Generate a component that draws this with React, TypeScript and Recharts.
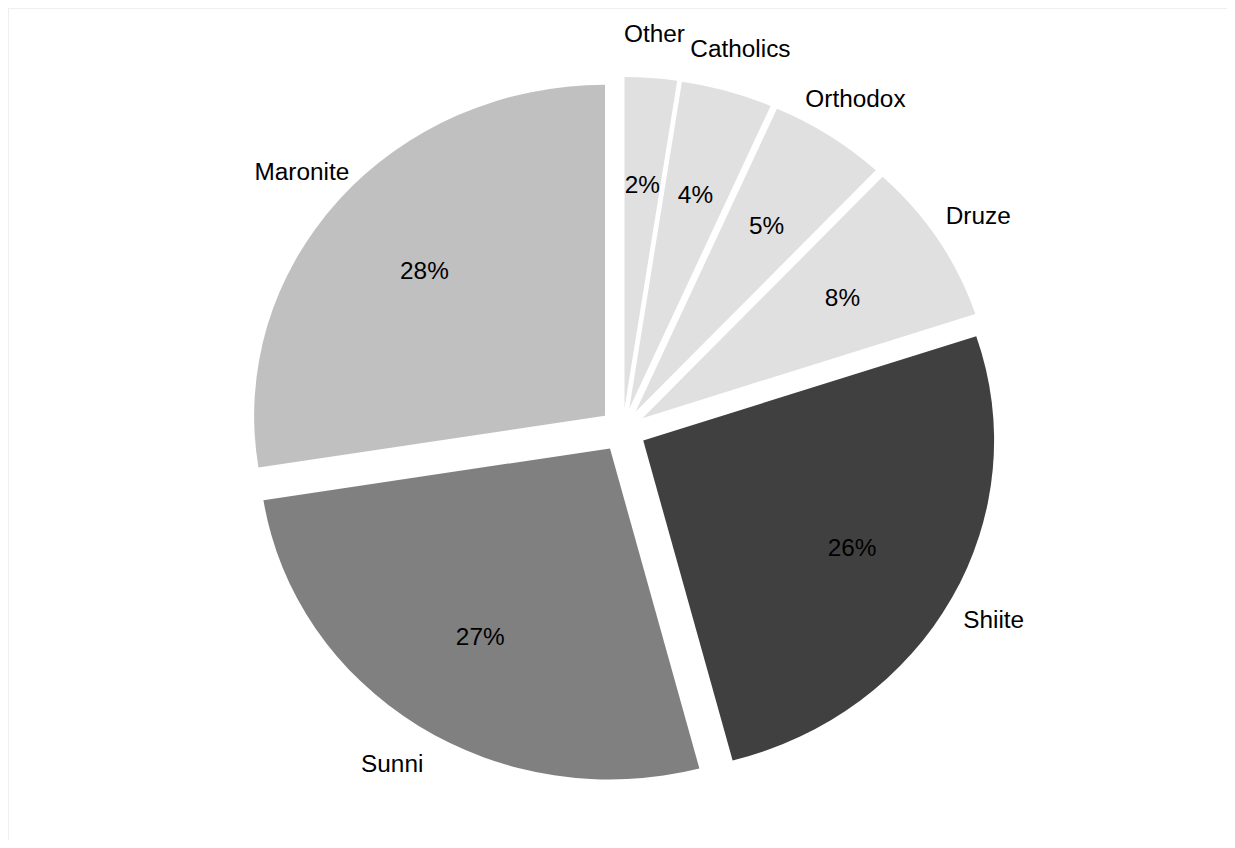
import { Cell, Pie, PieChart } from "recharts";

// clockwise from 12 o'clock
const RELIGIONS = ["Other", "Catholics", "Orthodox", "Druze", "Shiite", "Sunni", "Maronite"];
const SHARES = [2.4, 4.2, 5.4, 7.9, 26.0, 26.6, 27.5];
const COLORS = ["#e0e0e0", "#e0e0e0", "#e0e0e0", "#e0e0e0", "#404040", "#808080", "#c0c0c0"];

const data = RELIGIONS.map((name, i) => ({ name, value: SHARES[i] }));

const CX = 579;
const CY = 421;
const RADIUS = 331;
const EXPLODE = 22;
const PCT_RADIUS = 224;
const NAME_RADIUS = 376;
const RADIAN = Math.PI / 180;
const FONT = "'Liberation Sans', Arial, Helvetica, sans-serif";

const total = SHARES.reduce((a, b) => a + b, 0);

// middle angle of a slice, in degrees, counterclockwise from 3 o'clock
function sliceMid(index: number) {
  const before = SHARES.slice(0, index).reduce((a, b) => a + b, 0);
  return 90 - ((before + SHARES[index] / 2) / total) * 360;
}

const renderLabel = (slice: number) => (props: any) => {
  if (props.index !== slice) return <g />;
  const { cx, cy, midAngle } = props;
  const cos = Math.cos(-midAngle * RADIAN);
  const sin = Math.sin(-midAngle * RADIAN);
  return (
    <g fontFamily={FONT} fontSize={23} fill="#000">
      <text
        x={cx + PCT_RADIUS * cos}
        y={cy + PCT_RADIUS * sin + 1}
        textAnchor="middle"
        dominantBaseline="central"
      >
        {Math.round(SHARES[slice])}%
      </text>
      <text
        x={cx + NAME_RADIUS * cos}
        y={cy + NAME_RADIUS * sin + 1}
        textAnchor="middle"
        dominantBaseline="central"
      >
        {RELIGIONS[slice]}
      </text>
    </g>
  );
};

export default function App() {
  return (
    <div
      style={{
        width: 1227,
        height: 832,
        boxSizing: "border-box",
        borderTop: "1px solid #efefef",
        borderLeft: "1px solid #efefef",
        borderRight: "1px solid #efefef",
        overflow: "hidden",
      }}
    >
      <div style={{ width: 1156, height: 831, transform: "scaleX(1.06)", transformOrigin: "0 0" }}>
        <PieChart width={1156} height={831} margin={{ top: 0, right: 0, bottom: 0, left: 0 }}>
          {RELIGIONS.map((name, i) => {
            const mid = sliceMid(i);
            return (
              <Pie
                key={name}
                data={data}
                dataKey="value"
                nameKey="name"
                cx={CX + EXPLODE * Math.cos(mid * RADIAN)}
                cy={CY - EXPLODE * Math.sin(mid * RADIAN)}
                innerRadius={0}
                outerRadius={RADIUS}
                startAngle={90}
                endAngle={-270}
                stroke="none"
                label={renderLabel(i)}
                labelLine={false}
                isAnimationActive={false}
              >
                {data.map((entry, j) => (
                  <Cell key={entry.name} fill={j === i ? COLORS[j] : "none"} stroke="none" />
                ))}
              </Pie>
            );
          })}
        </PieChart>
      </div>
    </div>
  );
}
